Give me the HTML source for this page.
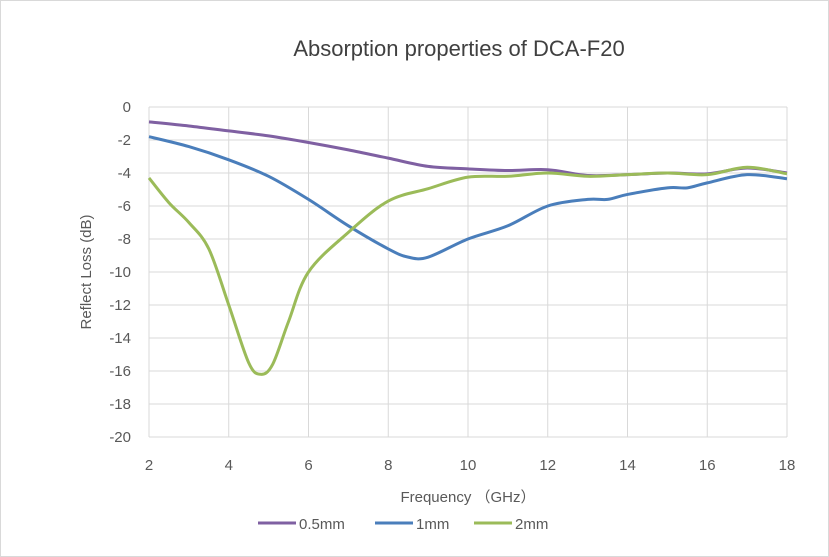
<!DOCTYPE html>
<html><head><meta charset="utf-8"><style>
body{margin:0;background:#fff;}
svg{display:block;font-family:"Liberation Sans",sans-serif;}
</style></head><body>
<svg id="s" width="829" height="557" viewBox="0 0 829 557">
<rect x="0.5" y="0.5" width="828" height="556" fill="#fff" stroke="#d9d9d9"/>
<text x="459" y="56" font-size="22" fill="#404040" text-anchor="middle">Absorption properties of DCA-F20</text>
<g id="grid" stroke="#d9d9d9" stroke-width="1"></g>
<g id="lbl" font-size="15" fill="#595959"></g>
<text transform="translate(91,272) rotate(-90)" font-size="15" fill="#595959" text-anchor="middle">Reflect Loss (dB)</text>
<text x="468" y="502" font-size="15" fill="#595959" text-anchor="middle">Frequency （GHz）</text>
<g font-size="15" fill="#595959">
<line x1="258" y1="523" x2="296" y2="523" stroke="#7f60a2" stroke-width="3"/>
<text x="299" y="529">0.5mm</text>
<line x1="375" y1="523" x2="413" y2="523" stroke="#4a7ebb" stroke-width="3"/>
<text x="416" y="529">1mm</text>
<line x1="474" y1="523" x2="512" y2="523" stroke="#9bbb59" stroke-width="3"/>
<text x="515" y="529">2mm</text>
</g>
<g id="series" fill="none" stroke-width="3" stroke-linejoin="round"></g>
</svg>
<script>
var NS="http://www.w3.org/2000/svg";
function X(f){return 149+(f-2)*39.875;}
function Y(v){return 107-v*16.5;}
var g=document.getElementById('grid'),l=document.getElementById('lbl');
for(var v=0;v>=-20;v-=2){var e=document.createElementNS(NS,'line');e.setAttribute('x1',149);e.setAttribute('x2',787);e.setAttribute('y1',Y(v));e.setAttribute('y2',Y(v));g.appendChild(e);
var t=document.createElementNS(NS,'text');t.setAttribute('x',131);t.setAttribute('y',Y(v)+5);t.setAttribute('text-anchor','end');t.textContent=v;l.appendChild(t);}
for(var f=2;f<=18;f+=2){var e=document.createElementNS(NS,'line');e.setAttribute('y1',107);e.setAttribute('y2',437);e.setAttribute('x1',X(f));e.setAttribute('x2',X(f));g.appendChild(e);
var t=document.createElementNS(NS,'text');t.setAttribute('x',X(f));t.setAttribute('y',470);t.setAttribute('text-anchor','middle');t.textContent=f;l.appendChild(t);}
var data=[
["#7f60a2",[[2,-0.9],[3,-1.15],[4,-1.45],[5,-1.75],[6,-2.15],[7,-2.6],[8,-3.1],[9,-3.6],[10,-3.75],[11,-3.85],[12,-3.8],[13,-4.15],[14,-4.1],[15,-4.0],[16,-4.05],[17,-3.7],[18,-4.0]]],
["#4a7ebb",[[2,-1.8],[3,-2.4],[4,-3.2],[5,-4.2],[6,-5.6],[7,-7.2],[8,-8.6],[8.5,-9.1],[9,-9.1],[10,-8.0],[11,-7.2],[12,-6.0],[13,-5.6],[13.5,-5.6],[14,-5.3],[15,-4.9],[15.5,-4.9],[16,-4.6],[17,-4.1],[18,-4.35]]],
["#9bbb59",[[2,-4.3],[2.5,-5.8],[3,-7.0],[3.5,-8.6],[4,-12],[4.5,-15.5],[4.8,-16.2],[5.1,-15.6],[5.5,-13],[6,-10],[7,-7.6],[8,-5.7],[9,-4.95],[10,-4.25],[11,-4.2],[12,-4.0],[13,-4.2],[14,-4.1],[15,-4.0],[16,-4.1],[17,-3.65],[18,-4.05]]]];
var s=document.getElementById('series');
data.forEach(function(d){var p=d[1].map(function(q){return [X(q[0]),Y(q[1])];});
var str="M"+p[0][0]+","+p[0][1];
for(var i=0;i<p.length-1;i++){var p0=p[Math.max(0,i-1)],p1=p[i],p2=p[i+1],p3=p[Math.min(p.length-1,i+2)];
var c1=[p1[0]+(p2[0]-p0[0])/6,p1[1]+(p2[1]-p0[1])/6],c2=[p2[0]-(p3[0]-p1[0])/6,p2[1]-(p3[1]-p1[1])/6];
str+=" C"+c1+" "+c2+" "+p2;}
var e=document.createElementNS(NS,'path');e.setAttribute('d',str);e.setAttribute('stroke',d[0]);s.appendChild(e);});
</script>
</body></html>
